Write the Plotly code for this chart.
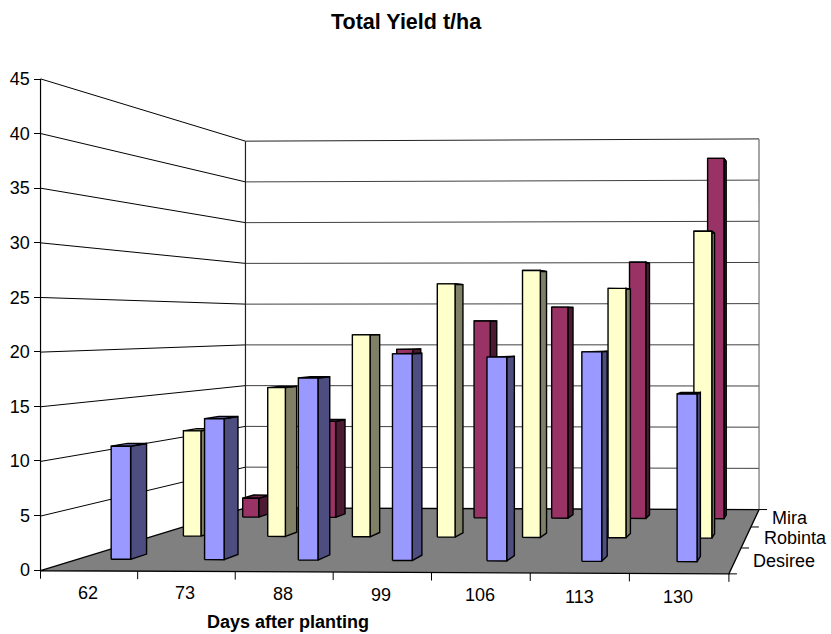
import numpy as np
import plotly.graph_objects as go

days = ["62", "73", "88", "99", "106", "113", "130"]
desiree = [10.85, 13.5, 17.4, 19.7, 19.4, 19.9, 15.9]
robinta = [11.2, 15.8, 21.4, 26.8, 28.2, 26.3, 32.3]
mira = [2.2, 11.2, 19.6, 22.9, 24.5, 29.7, 41.7]
series_names = ["Desiree", "Robinta", "Mira"]
y_ticks = list(range(0, 46, 5))

W, H = 831, 634
PX_Y0, PX_Y45 = 570.0, 79.0
UNIT = (PX_Y0 - PX_Y45) / 45

# camera calibration: chart-box corners (category, depth, value) -> page pixel
box = [((0, 0, 0), (40.5, 570)), ((7, 0, 0), (729, 574.5)), ((0, 1, 0), (245.5, 508.5)),
       ((7, 1, 0), (759, 509)), ((0, 0, 45), (40.5, 79)), ((0, 1, 45), (245.5, 141)),
       ((7, 1, 45), (759, 139))]
A = []
for (a, b, c), (px, py) in box:
    A.append([a, b, c, 1, 0, 0, 0, 0, -px * a, -px * b, -px * c, -px])
    A.append([0, 0, 0, 0, a, b, c, 1, -py * a, -py * b, -py * c, -py])
P = np.linalg.svd(np.array(A, float))[2][-1].reshape(3, 4)


def proj(a, b, c):
    q = P @ np.array([a, b, c, 1.0])
    return q[0] / q[2], (PX_Y0 - q[1] / q[2]) / UNIT


def poly(points):
    pts = [proj(*p) for p in points]
    pts.append(pts[0])
    return [p[0] for p in pts] + [None], [p[1] for p in pts] + [None]


def line(p0, p1):
    a, b = proj(*p0), proj(*p1)
    return [a[0], b[0], None], [a[1], b[1], None]


def join(items):
    xs, ys = [], []
    for x, y in items:
        xs += x
        ys += y
    return xs, ys


fig = go.Figure()


def add_poly(items, fill, color="#000000", width=1):
    x, y = join(items)
    fig.add_trace(go.Scatter(x=x, y=y, mode="lines", fill="toself", fillcolor=fill,
                             line=dict(color=color, width=width), hoverinfo="skip", showlegend=False))


def add_lines(items, color="#000000", width=1):
    x, y = join(items)
    fig.add_trace(go.Scatter(x=x, y=y, mode="lines", line=dict(color=color, width=width),
                             hoverinfo="skip", showlegend=False))


# floor, walls, grid
add_poly([poly([(0, 0, 0), (7, 0, 0), (7, 1, 0), (0, 1, 0)])], "#808080", width=1.3)
add_lines([line((0, 0, v), (0, 1, v)) for v in y_ticks[1:]], "#000000", 1)
add_lines([line((0, 1, v), (7, 1, v)) for v in y_ticks[1:-1]], "#404040", 1)
add_lines([line((0, 1, 45), (7, 1, 45))], "#202020", 1)
add_lines([line((0, 1, 0), (0, 1, 45))], "#202020", 1.2)
add_lines([line((7, 1, 0), (7, 1, 45))], "#707070", 1.2)
add_lines([line((0, 0, 0), (0, 0, 45))], "#000000", 1.2)

# axis ticks under the floor
tick_items = []
for i in range(8):
    a = proj(i, 0, 0)
    tick_items.append(([a[0], a[0], None], [a[1], a[1] - 8 / UNIT, None]))
for d in [0, 1 / 3, 2 / 3, 1]:
    a = proj(7, d, 0)
    tick_items.append(([a[0], a[0] + 8, None], [a[1], a[1], None]))
add_lines(tick_items, "#000000", 1)

# bars
styles = {"Mira": ("#993366", "#4D1A33", "#732650"),
          "Robinta": ("#FFFFCC", "#808066", "#BFBF99"),
          "Desiree": ("#9999FF", "#4D4D80", "#7373BF")}
fronts = {"Desiree": 0.145, "Robinta": 0.48, "Mira": 0.815}
values = {"Desiree": desiree, "Robinta": robinta, "Mira": mira}
BAR, DEPTH = 0.21, 0.07
for name in series_names[::-1]:
    f = fronts[name]
    b = f + DEPTH
    sides, tops, faces = [], [], []
    for i, v in enumerate(values[name]):
        c0 = i + 0.5 - 0.042 * (1 - i / 6)
        l, r = c0 - BAR / 2, c0 + BAR / 2
        sides.append(poly([(r, f, 0), (r, b, 0), (r, b, v), (r, f, v)]))
        tops.append(poly([(l, f, v), (r, f, v), (r, b, v), (l, b, v)]))
        faces.append(poly([(l, f, 0), (r, f, 0), (r, f, v), (l, f, v)]))
    c = styles[name]
    add_poly(sides, c[1], width=1.4)
    add_poly(tops, c[2], width=1.4)
    add_poly(faces, c[0], width=1.4)

FONT = "Liberation Sans, Arial, sans-serif"
notes = [dict(x=406, y=22, text="<b>Total Yield t/ha</b>", size=21.5),
         dict(x=288, y=622, text="<b>Days after planting</b>", size=18),
         dict(x=790, y=518, text="Mira", size=18),
         dict(x=795, y=538, text="Robinta", size=18),
         dict(x=784, y=561, text="Desiree", size=18)]
for d, x, y in zip(days, [88, 185, 283, 381, 480, 579, 678], [593, 593, 594, 595, 595, 597, 597]):
    notes.append(dict(x=x, y=y, text=d, size=18))
for n in notes:
    fig.add_annotation(x=n["x"], y=(PX_Y0 - n["y"]) / UNIT, text=n["text"], showarrow=False,
                       xanchor="center", yanchor="middle",
                       font=dict(family=FONT, size=n["size"], color="#000000"))

fig.update_layout(width=W, height=H, margin=dict(l=0, r=0, t=0, b=0), autosize=False,
                  paper_bgcolor="#FFFFFF", plot_bgcolor="#FFFFFF", showlegend=False,
                  xaxis=dict(range=[0, W], visible=False, domain=[0, 1]),
                  yaxis=dict(range=[(PX_Y0 - H) / UNIT, PX_Y0 / UNIT], domain=[0, 1], anchor="free",
                             position=40.5 / W, showgrid=False, zeroline=False,
                             tickmode="array", tickvals=y_ticks, ticks="outside", ticklen=7,
                             tickcolor="#000000", tickwidth=1,
                             tickfont=dict(family=FONT, size=18, color="#000000")))
fig.write_html("out.html", config={"displayModeBar": False},
               post_script="document.body.style.margin='0';document.body.style.overflow='hidden';")
